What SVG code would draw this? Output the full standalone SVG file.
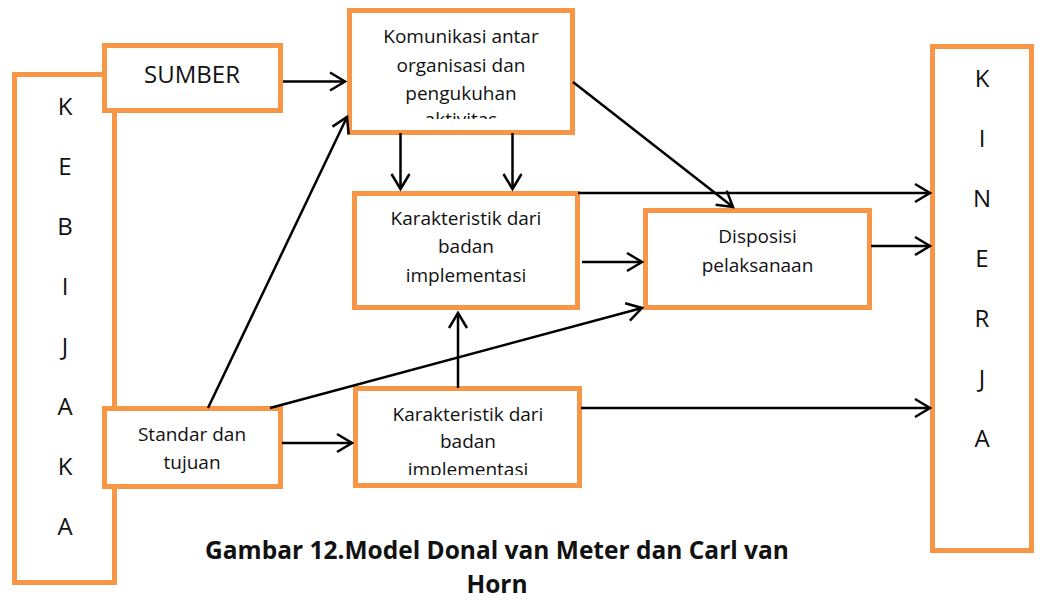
<svg xmlns="http://www.w3.org/2000/svg" width="1040" height="600" viewBox="0 0 1040 600">
  <defs>
    <style>
      .box { fill: #ffffff; stroke: #F79646; stroke-width: 5; }
      .t { font-family: "Open Sans", "Liberation Sans", sans-serif; font-size: 19px; fill: #111; text-anchor: middle; }
      .big { font-family: "Open Sans", "Liberation Sans", sans-serif; font-size: 24px; fill: #111; text-anchor: middle; }
      .cap { font-family: "Open Sans", "Liberation Sans", sans-serif; font-size: 24.5px; font-weight: bold; fill: #111; text-anchor: middle; }
      .arr { fill: none; stroke: #000; stroke-width: 2.5; marker-end: url(#ah); }
    </style>
    <marker id="ah" markerUnits="userSpaceOnUse" markerWidth="30" markerHeight="30" viewBox="-20 -15 30 30" refX="0" refY="0" orient="auto">
      <path d="M-15,-9 L0,0 L-15,9" fill="none" stroke="#000" stroke-width="2.5"/>
    </marker>
    <clipPath id="clipKom"><rect x="352" y="13" width="218" height="106"/></clipPath>
    <clipPath id="clipKar2"><rect x="358" y="391" width="219" height="84"/></clipPath>
  </defs>

  <g id="kebijakan">
    <rect class="box" x="14.5" y="74.5" width="100" height="508"/>
    <text class="big" x="65" y="115">K</text>
    <text class="big" x="65" y="175">E</text>
    <text class="big" x="65" y="235">B</text>
    <text class="big" x="65" y="295">I</text>
    <text class="big" x="65" y="355">J</text>
    <text class="big" x="65" y="415">A</text>
    <text class="big" x="65" y="475">K</text>
    <text class="big" x="65" y="535">A</text>
  </g>

  <g id="sumber">
    <rect class="box" x="104.5" y="45.5" width="176" height="65"/>
    <text class="big" x="192" y="83">SUMBER</text>
  </g>

  <g id="standar">
    <rect class="box" x="104.5" y="408.5" width="176" height="78"/>
    <text class="t" x="192" y="441">Standar dan</text>
    <text class="t" x="192" y="469">tujuan</text>
  </g>

  <g id="komunikasi">
    <rect class="box" x="349.5" y="10.5" width="223" height="122"/>
    <g clip-path="url(#clipKom)">
      <text class="t" x="461" y="43">Komunikasi antar</text>
      <text class="t" x="461" y="71.5">organisasi dan</text>
      <text class="t" x="461" y="100">pengukuhan</text>
      <text class="t" x="461" y="126">aktivitas</text>
    </g>
  </g>

  <g id="karakteristik1">
    <rect class="box" x="354.5" y="193.5" width="223" height="114"/>
    <text class="t" x="466" y="225">Karakteristik dari</text>
    <text class="t" x="466" y="253">badan</text>
    <text class="t" x="466" y="282">implementasi</text>
  </g>

  <g id="disposisi">
    <rect class="box" x="645.5" y="210.5" width="224" height="97"/>
    <text class="t" x="757.5" y="243">Disposisi</text>
    <text class="t" x="757.5" y="272">pelaksanaan</text>
  </g>

  <g id="karakteristik2">
    <rect class="box" x="355.5" y="388.5" width="224" height="97"/>
    <g clip-path="url(#clipKar2)">
      <text class="t" x="468" y="420.5">Karakteristik dari</text>
      <text class="t" x="468" y="448">badan</text>
      <text class="t" x="468" y="476">implementasi</text>
    </g>
  </g>

  <g id="kinerja">
    <rect class="box" x="932.5" y="46.5" width="99" height="504"/>
    <text class="big" x="982" y="87">K</text>
    <text class="big" x="982" y="147">I</text>
    <text class="big" x="982" y="207">N</text>
    <text class="big" x="982" y="267">E</text>
    <text class="big" x="982" y="327">R</text>
    <text class="big" x="982" y="387">J</text>
    <text class="big" x="982" y="447">A</text>
  </g>

  <g id="connectors">
    <line class="arr" x1="283" y1="81.5" x2="345" y2="81.5"/>
    <line class="arr" x1="400.5" y1="133" x2="400.5" y2="189"/>
    <line class="arr" x1="512.5" y1="133" x2="512.5" y2="189"/>
    <line class="arr" x1="573" y1="82" x2="733" y2="207"/>
    <line class="arr" x1="578" y1="193" x2="930" y2="193"/>
    <line class="arr" x1="582" y1="262" x2="642" y2="262"/>
    <line class="arr" x1="871" y1="246" x2="930" y2="246"/>
    <line class="arr" x1="208" y1="408" x2="347" y2="117"/>
    <line class="arr" x1="270" y1="408" x2="642" y2="308"/>
    <line class="arr" x1="282" y1="443" x2="352" y2="443"/>
    <line class="arr" x1="458" y1="388" x2="458" y2="313"/>
    <line class="arr" x1="581" y1="408" x2="930" y2="408"/>
  </g>

  <g id="caption">
    <text class="cap" x="497" y="559">Gambar 12.Model Donal van Meter dan Carl van</text>
    <text class="cap" x="497" y="593">Horn</text>
  </g>
</svg>
